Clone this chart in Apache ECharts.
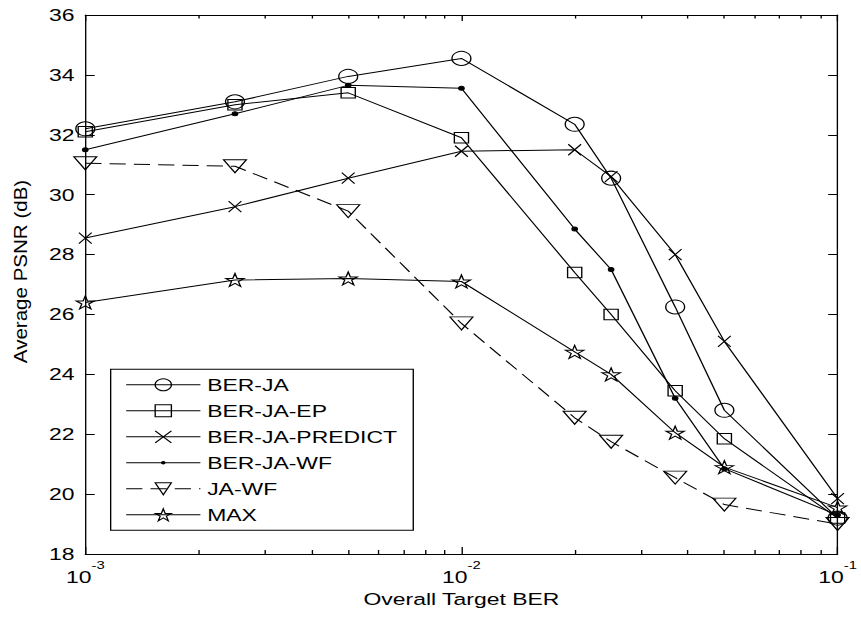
<!DOCTYPE html>
<html><head><meta charset="utf-8">
<script src="https://cdn.jsdelivr.net/npm/echarts@6/dist/echarts.min.js"></script>
<style>
html,body{margin:0;padding:0;background:#fff;overflow:hidden;}
#wrap{width:861px;height:617px;overflow:hidden;position:relative;}
#chart{width:638px;height:617px;transform:scaleX(1.349530);transform-origin:0 0;}
</style></head>
<body><div id="wrap"><div id="chart"></div></div>
<script>
// ---- data ----
const targetBER = [0.001, 0.0025, 0.005, 0.01, 0.02, 0.025, 0.037, 0.05, 0.1];
const berJA        = [32.2, 33.1, 33.95, 34.55, 32.35, 30.55, 26.25, 22.8, 19.2];
const berJAEP      = [32.1, 33.0, 33.4, 31.9, 27.4, 26.0, 23.45, 21.85, 19.2];
const berJAPredict = [28.55, 29.6, 30.55, 31.45, 31.5, 30.6, 28.0, 25.1, 19.85];
const berJAWF      = [31.5, 32.7, 33.65, 33.55, 28.85, 27.5, 23.2, 20.85, 19.3];
const jaWF         = [31.05, 30.95, 29.45, 25.7, 22.55, 21.75, 20.55, 19.65, 19.0];
const maxPSNR      = [26.4, 27.15, 27.2, 27.1, 24.75, 24.0, 22.05, 20.9, 19.55];
const seriesNames  = ['BER-JA', 'BER-JA-EP', 'BER-JA-PREDICT', 'BER-JA-WF', 'JA-WF', 'MAX'];
const xMajorTicks  = [0.001, 0.01, 0.1];
const xMinorTicks  = [0.002, 0.003, 0.004, 0.005, 0.006, 0.007, 0.008, 0.009,
                      0.02, 0.03, 0.04, 0.05, 0.06, 0.07, 0.08, 0.09];
const yMin = 18, yMax = 36, yStep = 2;

// ---- styling ----
const FONT = "'Liberation Sans', Arial, sans-serif";
const STAR = 'path://M50,0L61.23,34.55L97.55,34.55L68.16,55.9L79.39,90.45L50,69.1L20.61,90.45L31.84,55.9L2.45,34.55L38.77,34.55Z';
const CROSS = 'path://M0,0L10,10M0,10L10,0';
const DOT = 'path://M0,0L0,0M20,20L20,20M8,10A2,2 0 1 1 12,10A2,2 0 1 1 8,10Z';
const CLEAR = 'rgba(255,255,255,0)';

function mk(name, vals, symbol, size, opts) {
  opts = opts || {};
  return {
    name: name, type: 'line', xAxisIndex: 0, yAxisIndex: 0,
    data: targetBER.map((x, i) => [x, vals[i]]),
    symbol: symbol, symbolSize: size, showSymbol: true,
    symbolRotate: opts.rotate || 0,
    lineStyle: { color: '#000', width: 1, type: opts.dash || 'solid' },
    itemStyle: { color: opts.fill || CLEAR, borderColor: '#000', borderWidth: 1 },
    emphasis: { disabled: true },
    animation: false
  };
}

const tickStyle = { color: '#000', width: 1 };
function xAx(pos, ticks, len, showLine, showLabel) {
  const ax = {
    type: 'log', logBase: 10, min: 0.001, max: 0.1, position: pos, gridIndex: 0,
    axisLine: { show: showLine, onZero: false, lineStyle: { color: '#000', width: 1 } },
    axisTick: { show: true, inside: true, length: len, customValues: ticks, lineStyle: tickStyle },
    axisLabel: { show: false },
    splitLine: { show: false }, minorTick: { show: false }, minorSplitLine: { show: false }
  };
  if (showLabel) {
    ax.axisLabel = {
      show: true, customValues: xMajorTicks, margin: 6,
      formatter: v => '{s|}{b|10}{s|' + Math.round(Math.log10(v)) + '}',
      rich: {
        b: { fontSize: 17, fontFamily: FONT, color: '#000', verticalAlign: 'bottom', padding: [9, 0, 0, 0] },
        s: { fontSize: 11, fontFamily: FONT, color: '#000', verticalAlign: 'top' }
      }
    };
    ax.name = 'Overall Target BER';
    ax.nameLocation = 'middle';
    ax.nameGap = 37;
    ax.nameTextStyle = { fontSize: 17, fontFamily: FONT, color: '#000' };
  }
  return ax;
}
function yAx(pos, showLabel) {
  return {
    type: 'value', min: yMin, max: yMax, interval: yStep, position: pos, gridIndex: 0,
    axisLine: { show: true, onZero: false, lineStyle: { color: '#000', width: 1 } },
    axisTick: { show: true, inside: true, length: 7, lineStyle: tickStyle },
    axisLabel: { show: showLabel, margin: 8, fontSize: 17, fontFamily: FONT, color: '#000' },
    splitLine: { show: false }
  };
}

function legendItem(name, fill, dash) {
  return {
    name: name,
    itemStyle: { color: fill || CLEAR, borderColor: '#000', borderWidth: 1 },
    lineStyle: { color: '#000', width: 1, type: dash || 'solid' }
  };
}

const chart = echarts.init(document.getElementById('chart'), null, { renderer: 'svg' });
chart.setOption({
  backgroundColor: '#fff',
  animation: false,
  grid: { left: 63.2, right: 17.3, top: 15, bottom: 63, containLabel: false },
  xAxis: [
    xAx('bottom', xMajorTicks, 7, true, true),
    xAx('bottom', xMinorTicks, 4, false, false),
    xAx('top', xMajorTicks, 6, true, false),
    xAx('top', xMinorTicks, 3.5, false, false)
  ],
  yAxis: [yAx('left', true), yAx('right', false)],
  legend: {
    orient: 'vertical', left: 82, top: 369.3,
    data: [
      legendItem(seriesNames[0]),
      legendItem(seriesNames[1]),
      legendItem(seriesNames[2]),
      legendItem(seriesNames[3], '#000'),
      legendItem(seriesNames[4], null, [12, 6]),
      legendItem(seriesNames[5])
    ],
    itemWidth: 55, itemHeight: 15, itemGap: 8,
    padding: [6.5, 12, 6.5, 11],
    borderColor: '#000', borderWidth: 1, borderRadius: 0,
    backgroundColor: '#fff',
    textStyle: { fontSize: 17, fontFamily: FONT, color: '#000', lineHeight: 18 },
    selectedMode: false
  },
  graphic: [{
    type: 'text', x: 15.7, y: 271.5, rotation: Math.PI / 2, scaleX: 1.58,
    style: { text: 'Average PSNR (dB)', fontSize: 13, fontFamily: FONT, fill: '#000',
             align: 'center', verticalAlign: 'middle', textAlign: 'center', textVerticalAlign: 'middle' }
  }],
  series: [
    mk(seriesNames[0], berJA, 'circle', 14),
    mk(seriesNames[1], berJAEP, 'rect', 10.5),
    mk(seriesNames[2], berJAPredict, CROSS, [9.5, 11]),
    mk(seriesNames[3], berJAWF, DOT, 20, { fill: '#000' }),
    mk(seriesNames[4], jaWF, 'triangle', [17, 13], { rotate: 180, dash: [12, 6] }),
    mk(seriesNames[5], maxPSNR, STAR, [13.5, 13])
  ]
});
</script>
</body></html>
